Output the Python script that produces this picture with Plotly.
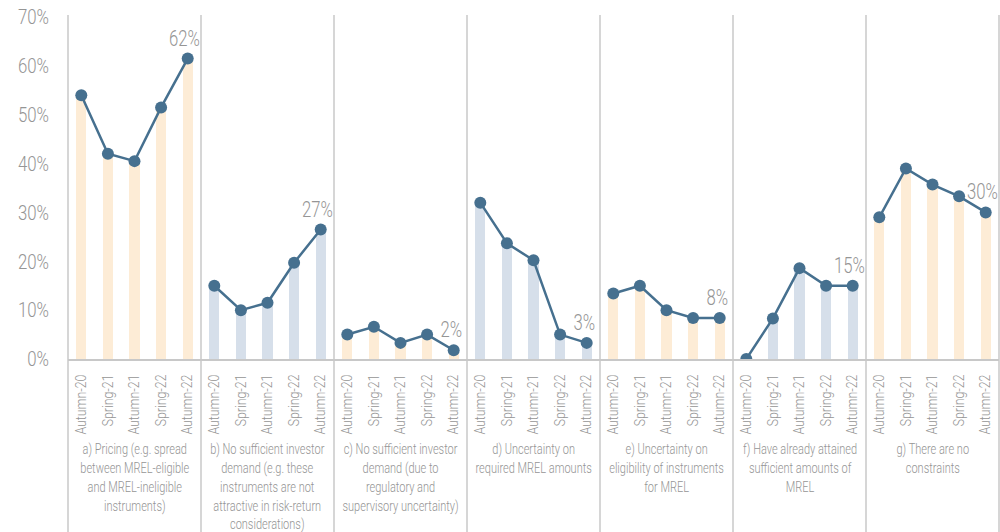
import plotly.graph_objects as go

periods = ["Autumn-20", "Spring-21", "Autumn-21", "Spring-22", "Autumn-22"]
groups = [
    "a) Pricing (e.g. spread<br>between MREL-eligible<br>and MREL-ineligible<br>instruments)",
    "b) No sufficient investor<br>demand (e.g. these<br>instruments are not<br>attractive in risk-return<br>considerations)",
    "c) No sufficient investor<br>demand (due to<br>regulatory and<br>supervisory uncertainty)",
    "d) Uncertainty on<br>required MREL amounts",
    "e) Uncertainty on<br>eligibility of instruments<br>for MREL",
    "f) Have already attained<br>sufficient amounts of<br>MREL",
    "g) There are no<br>constraints",
]
values = [
    [0.54, 0.42, 0.405, 0.515, 0.615],
    [0.15, 0.10, 0.115, 0.197, 0.265],
    [0.05, 0.066, 0.033, 0.05, 0.018],
    [0.32, 0.237, 0.202, 0.05, 0.033],
    [0.134, 0.15, 0.10, 0.084, 0.084],
    [0.0, 0.083, 0.186, 0.15, 0.15],
    [0.29, 0.39, 0.357, 0.333, 0.30],
]
last_labels = ["62%", "27%", "2%", "3%", "8%", "15%", "30%"]

FONT = "Roboto, Noto Sans, sans-serif"
GRAY = "#959595"
LINE = "#46708f"
PEACH = "#fdecd6"
BLUEG = "#d6dfea"

n = len(periods)
fig = go.Figure()
xs_all, ticktext = [], []
for g, vals in enumerate(values):
    xs = [g * n + i for i in range(n)]
    xs_all += xs
    ticktext += periods
    fig.add_trace(go.Bar(x=xs, y=vals, width=0.38,
                         marker=dict(color=PEACH if g % 2 == 0 else BLUEG, line=dict(width=0)),
                         hoverinfo="skip", showlegend=False))
for g, vals in enumerate(values):
    xs = [g * n + i for i in range(n)]
    fig.add_trace(go.Scatter(x=xs, y=vals, mode="lines+markers",
                             line=dict(color=LINE, width=2.5),
                             marker=dict(color=LINE, size=12),
                             showlegend=False, hoverinfo="skip"))
    fig.add_annotation(x=xs[-1], y=vals[-1], text=last_labels[g], showarrow=False,
                       xref="x", yref="y", yanchor="bottom", xanchor="center",
                       yshift=6, xshift=-3,
                       font=dict(family=FONT, size=22, color=GRAY, weight=300))
    fig.add_annotation(x=(g + 0.5) / len(values), y=-0.235, xref="paper", yref="paper",
                       text=groups[g], showarrow=False, yanchor="top", xanchor="center",
                       align="center", font=dict(family=FONT, size=14.5, color=GRAY, weight=300))

ng = len(values)
for k in range(ng + 1):
    fig.add_shape(type="line", xref="paper", yref="paper", x0=k / ng, x1=k / ng,
                  y0=-0.51, y1=1.006, line=dict(color="#c8c8c8", width=1.5))

fig.update_layout(
    width=1000, height=532, margin=dict(l=68, r=1, t=17, b=173),
    plot_bgcolor="white", paper_bgcolor="white", barmode="overlay", bargap=0,
    font=dict(family=FONT, color=GRAY, weight=300),
)
fig.update_xaxes(range=[-0.5, len(xs_all) - 0.5], tickmode="array", tickvals=xs_all,
                 ticktext=ticktext, tickangle=-90,
                 tickfont=dict(size=14.5, color=GRAY, weight=300),
                 showgrid=False, zeroline=False, showline=True, linecolor="#c8c8c8",
                 linewidth=1.5, ticks="", ticklabelstandoff=8)
fig.update_yaxes(range=[0, 0.7], tickformat=".0%", dtick=0.1, showgrid=False,
                 zeroline=False, showline=False,
                 tickfont=dict(size=21, color=GRAY, weight=300),
                 ticks="", ticklabelstandoff=18)

post = """
document.body.style.margin='0';
var gd=document.getElementById('{plot_id}');
function sx(el, s){
  var t=el.getAttribute('transform')||'';
  var x=parseFloat(el.getAttribute('x'))||0;
  var y=parseFloat(el.getAttribute('y'))||0;
  el.setAttribute('transform', t+' translate('+x+','+y+') scale('+s+',1) translate('+(-x)+','+(-y)+')');
}
gd.querySelectorAll('.xtick text').forEach(function(el){ sx(el, 0.85); });
gd.querySelectorAll('.ytick text').forEach(function(el){ sx(el, 0.8); });
gd.querySelectorAll('.annotation-text').forEach(function(el){ sx(el, 0.76); });
"""
fig.write_html("out.html", post_script=post, config={"displayModeBar": False})
